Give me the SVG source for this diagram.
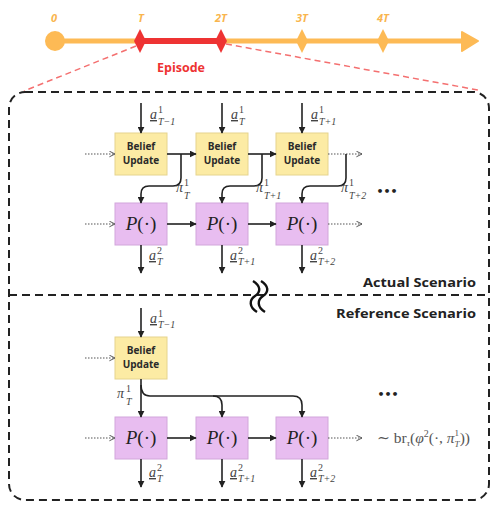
<svg xmlns="http://www.w3.org/2000/svg" width="492" height="505" viewBox="0 0 492 505">
<defs>
<marker id="ah" viewBox="0 0 10 10" refX="9" refY="5" markerWidth="7" markerHeight="7" markerUnits="userSpaceOnUse" orient="auto"><path d="M0,0 L10,5 L0,10 z" fill="#222"/></marker>
<marker id="ao" viewBox="0 0 10 10" refX="9" refY="5" markerWidth="7" markerHeight="7" markerUnits="userSpaceOnUse" orient="auto"><path d="M1,1 L9,5 L1,9" fill="none" stroke="#555" stroke-width="1.4"/></marker>
<style>
.c{fill:none;stroke:#222;stroke-width:1.6;marker-end:url(#ah)}
.d{fill:none;stroke:#555;stroke-width:1.2;stroke-dasharray:1.5 1.5;marker-end:url(#ao)}
.bu{fill:#FCEBA4;stroke:#E6D48E;stroke-width:1}
.pb{fill:#E8BDF0;stroke:#D2A6DB;stroke-width:1}
.bt{font-family:"Open Sans","Liberation Sans",sans-serif;font-weight:700;font-size:10px;fill:#2a2a2a;text-anchor:middle}
.pt{font-family:"Liberation Serif","DejaVu Serif",serif;font-size:19px;fill:#222;text-anchor:middle}
.m{font-family:"Liberation Serif","DejaVu Serif",serif;font-style:italic;font-size:14px;fill:#444}
.s{font-size:10px}
.tl{font-family:"Open Sans","Liberation Sans",sans-serif;font-style:italic;font-weight:700;font-size:11px;fill:#F9B54E;text-anchor:middle}
.hd{font-family:"Open Sans","Liberation Sans",sans-serif;font-weight:700;font-size:12.5px;fill:#222;text-anchor:end}
.dots{font-family:"DejaVu Sans",sans-serif;font-size:11px;font-weight:700;fill:#222;text-anchor:middle}
</style>
</defs>
<rect width="492" height="505" fill="#fff"/>
<g id="timeline">
<line x1="55" y1="41" x2="466" y2="41" stroke="#FDBA55" stroke-width="5"/>
<polygon points="462,32 478,41 462,51" fill="#FDBA55" stroke="#FDBA55" stroke-width="2" stroke-linejoin="round"/>
<circle cx="55" cy="41" r="10" fill="#FDBA55"/>
<line x1="140" y1="41" x2="221" y2="41" stroke="#EE3333" stroke-width="6"/>
<polygon points="140,29 146,41 140,53 134,41" fill="#EE3333"/>
<polygon points="221,29 227,41 221,53 215,41" fill="#EE3333"/>
<polygon points="302,29 308,41 302,53 296,41" fill="#FDBA55"/>
<polygon points="383,29 389,41 383,53 377,41" fill="#FDBA55"/>
<text class="tl" x="54" y="22">0</text>
<text class="tl" x="141" y="22">T</text>
<text class="tl" x="221" y="22">2T</text>
<text class="tl" x="302" y="22">3T</text>
<text class="tl" x="383" y="22">4T</text>
<text x="181" y="72" font-family="'Open Sans','Liberation Sans',sans-serif" font-weight="700" font-size="12.5" fill="#EE3333" text-anchor="middle">Episode</text>
<line x1="136" y1="46" x2="24" y2="91" stroke="#F47070" stroke-width="1.5" stroke-dasharray="6 4"/>
<line x1="226" y1="44" x2="478" y2="90" stroke="#F47070" stroke-width="1.5" stroke-dasharray="6 4"/>
</g>
<g id="frame">
<rect x="9" y="92" width="480" height="408" rx="16" fill="none" stroke="#222" stroke-width="2" stroke-dasharray="8 5"/>
<line x1="9" y1="295" x2="489" y2="295" stroke="#222" stroke-width="2" stroke-dasharray="8 5"/>
<path d="M253,281 C261,286 261,292 255,296 C249,300 249,307 257,312" fill="none" stroke="#111" stroke-width="2.4"/>
<path d="M261,281 C269,286 269,292 263,296 C257,300 257,307 265,312" fill="none" stroke="#111" stroke-width="2.4"/>
<text class="hd" x="476" y="287" textLength="113" lengthAdjust="spacingAndGlyphs">Actual Scenario</text>
<text class="hd" x="476" y="318" textLength="140" lengthAdjust="spacingAndGlyphs">Reference Scenario</text>
</g>
<g id="bu1"><rect class="bu" x="115" y="133" width="52" height="42"/><text class="bt" x="141" y="150">Belief</text><text class="bt" x="141" y="164">Update</text></g>
<g id="bu2"><rect class="bu" x="196" y="133" width="52" height="42"/><text class="bt" x="222" y="150">Belief</text><text class="bt" x="222" y="164">Update</text></g>
<g id="bu3"><rect class="bu" x="276" y="133" width="52" height="42"/><text class="bt" x="302" y="150">Belief</text><text class="bt" x="302" y="164">Update</text></g>
<g id="p1"><rect class="pb" x="115" y="203" width="52" height="42"/><text class="pt" x="141" y="230"><tspan font-style="italic">P</tspan>(·)</text></g>
<g id="p2"><rect class="pb" x="196" y="203" width="52" height="42"/><text class="pt" x="222" y="230"><tspan font-style="italic">P</tspan>(·)</text></g>
<g id="p3"><rect class="pb" x="276" y="203" width="52" height="42"/><text class="pt" x="302" y="230"><tspan font-style="italic">P</tspan>(·)</text></g>
<g id="rbu"><rect class="bu" x="115" y="337" width="52" height="42"/><text class="bt" x="141" y="354">Belief</text><text class="bt" x="141" y="368">Update</text></g>
<g id="rp1"><rect class="pb" x="115" y="417" width="52" height="42"/><text class="pt" x="141" y="444"><tspan font-style="italic">P</tspan>(·)</text></g>
<g id="rp2"><rect class="pb" x="196" y="417" width="52" height="42"/><text class="pt" x="222" y="444"><tspan font-style="italic">P</tspan>(·)</text></g>
<g id="rp3"><rect class="pb" x="276" y="417" width="52" height="42"/><text class="pt" x="302" y="444"><tspan font-style="italic">P</tspan>(·)</text></g>
<g id="connectors">
<path class="c" d="M141,103 V133"/><path class="c" d="M222,103 V133"/><path class="c" d="M302,103 V133"/>
<path class="d" d="M85,154 H115"/>
<path class="c" d="M167,154 H196"/><path class="c" d="M248,154 H276"/>
<path class="d" d="M328,154 H362"/>
<path class="c" d="M181,154 V178 Q181,186 173,186 H149 Q141,186 141,194 V203"/>
<path class="c" d="M262,154 V178 Q262,186 254,186 H230 Q222,186 222,194 V203"/>
<path class="c" d="M346,154 V178 Q346,186 338,186 H310 Q302,186 302,194 V203"/>
<path class="d" d="M85,224 H115"/>
<path class="c" d="M167,224 H196"/><path class="c" d="M248,224 H276"/>
<path class="d" d="M328,224 H362"/>
<path class="c" d="M141,245 V273"/><path class="c" d="M222,245 V273"/><path class="c" d="M302,245 V273"/>
<path class="c" d="M141,308 V337"/>
<path class="d" d="M85,358 H115"/>
<path class="c" d="M141,379 V417"/>
<path class="c" d="M141,385 Q141,396 150,396 H213 Q222,396 222,405 V417"/>
<path class="c" d="M213,396 H293 Q302,396 302,405 V417"/>
<path class="d" d="M85,438 H115"/>
<path class="c" d="M167,438 H196"/><path class="c" d="M248,438 H276"/>
<path class="d" d="M328,438 H362"/>
<path class="c" d="M141,459 V487"/><path class="c" d="M222,459 V487"/><path class="c" d="M302,459 V487"/>
</g>
<g id="labels">
<text class="m" x="150" y="119"><tspan text-decoration="underline">a</tspan><tspan class="s" font-style="normal" x="158" y="113">1</tspan><tspan class="s" x="158" y="125">T−1</tspan></text>
<text class="m" x="231" y="119"><tspan text-decoration="underline">a</tspan><tspan class="s" font-style="normal" x="239" y="113">1</tspan><tspan class="s" x="239" y="125">T</tspan></text>
<text class="m" x="311" y="119"><tspan text-decoration="underline">a</tspan><tspan class="s" font-style="normal" x="319" y="113">1</tspan><tspan class="s" x="319" y="125">T+1</tspan></text>
<text class="m" x="176" y="192">π<tspan class="s" font-style="normal" x="184" y="186">1</tspan><tspan class="s" x="184" y="199">T</tspan></text>
<text class="m" x="256" y="192">π<tspan class="s" font-style="normal" x="264" y="186">1</tspan><tspan class="s" x="264" y="199">T+1</tspan></text>
<text class="m" x="341" y="192">π<tspan class="s" font-style="normal" x="349" y="186">1</tspan><tspan class="s" x="349" y="199">T+2</tspan></text>
<text class="dots" x="387" y="195">•••</text>
<text class="m" x="149" y="260"><tspan text-decoration="underline">a</tspan><tspan class="s" font-style="normal" x="157" y="254">2</tspan><tspan class="s" x="157" y="265">T</tspan></text>
<text class="m" x="230" y="260"><tspan text-decoration="underline">a</tspan><tspan class="s" font-style="normal" x="238" y="254">2</tspan><tspan class="s" x="238" y="265">T+1</tspan></text>
<text class="m" x="310" y="260"><tspan text-decoration="underline">a</tspan><tspan class="s" font-style="normal" x="318" y="254">2</tspan><tspan class="s" x="318" y="265">T+2</tspan></text>
<text class="m" x="150" y="323"><tspan text-decoration="underline">a</tspan><tspan class="s" font-style="normal" x="158" y="317">1</tspan><tspan class="s" x="158" y="328">T−1</tspan></text>
<text class="m" x="117" y="398">π<tspan class="s" font-style="normal" x="126" y="392">1</tspan><tspan class="s" x="126" y="405">T</tspan></text>
<text class="dots" x="388" y="398">•••</text>
<text class="m" x="149" y="477"><tspan text-decoration="underline">a</tspan><tspan class="s" font-style="normal" x="157" y="471">2</tspan><tspan class="s" x="157" y="482">T</tspan></text>
<text class="m" x="230" y="477"><tspan text-decoration="underline">a</tspan><tspan class="s" font-style="normal" x="238" y="471">2</tspan><tspan class="s" x="238" y="482">T+1</tspan></text>
<text class="m" x="310" y="477"><tspan text-decoration="underline">a</tspan><tspan class="s" font-style="normal" x="318" y="471">2</tspan><tspan class="s" x="318" y="482">T+2</tspan></text>
<text x="377" y="443" font-family="'Liberation Serif','DejaVu Serif',serif" font-size="15.5" fill="#555">∼ br<tspan font-size="9" font-style="italic" dy="3">τ</tspan><tspan dy="-3">(</tspan><tspan font-style="italic">φ</tspan><tspan font-size="10" dy="-6">2</tspan><tspan dy="6">(·, </tspan><tspan font-style="italic">π</tspan><tspan font-size="9" dy="-7">1</tspan><tspan font-size="9" font-style="italic" dx="-4.5" dy="11">T</tspan><tspan dy="-4">))</tspan></text>
</g>
</svg>
